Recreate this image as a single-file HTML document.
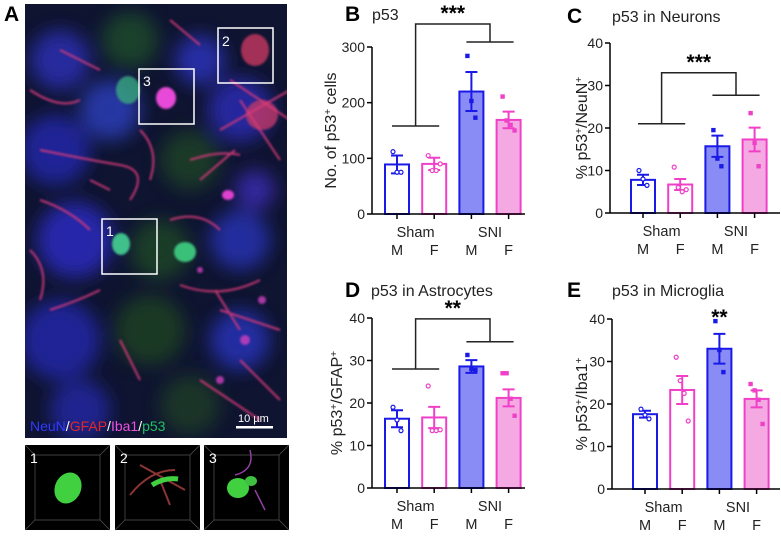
<!DOCTYPE html>
<html><head><meta charset="utf-8">
<style>
html,body{margin:0;padding:0;background:#fff;}
svg text{font-family:"Liberation Sans",Arial,sans-serif;}
</style></head>
<body>
<svg id="fig" width="781" height="540" viewBox="0 0 781 540" xmlns="http://www.w3.org/2000/svg">
<defs>
<filter id="blur3" x="-50%" y="-50%" width="200%" height="200%"><feGaussianBlur stdDeviation="9"/></filter>
<filter id="blur1"><feGaussianBlur stdDeviation="1"/></filter>
<clipPath id="imgclip"><rect x="25" y="4" width="262" height="434"/></clipPath>
</defs>
<g>
<text x="4" y="21" font-size="21" font-weight="bold">A</text>
<g clip-path="url(#imgclip)">
<rect x="25" y="4" width="262" height="434" fill="#0f1430"/>
<g filter="url(#blur3)" opacity="0.85">
<circle cx="60" cy="60" r="30" fill="#2a2fb0"/><circle cx="130" cy="40" r="28" fill="#1c4a2a"/>
<circle cx="55" cy="150" r="35" fill="#2328a8"/><circle cx="110" cy="110" r="30" fill="#2b3db8"/>
<circle cx="190" cy="160" r="30" fill="#1d3f28"/><circle cx="240" cy="110" r="32" fill="#2a2ab0"/>
<circle cx="75" cy="240" r="38" fill="#2a2cc0"/><circle cx="160" cy="250" r="30" fill="#1c4526"/>
<circle cx="240" cy="240" r="30" fill="#2730b0"/><circle cx="60" cy="340" r="40" fill="#2327a8"/>
<circle cx="150" cy="330" r="35" fill="#1b4024"/><circle cx="240" cy="340" r="30" fill="#2830b5"/>
<circle cx="80" cy="410" r="30" fill="#2328a0"/><circle cx="190" cy="405" r="30" fill="#1c3a28"/>
<circle cx="200" cy="60" r="25" fill="#2c30b8"/><circle cx="255" cy="190" r="20" fill="#3a2ab0"/>
</g>
<g filter="url(#blur1)">
<ellipse cx="121" cy="244" rx="9" ry="11" fill="#3fc08a"/><ellipse cx="185" cy="252" rx="11" ry="10" fill="#3ac07a"/>
<ellipse cx="128" cy="90" rx="12" ry="14" fill="#3aa880" opacity="0.8"/><ellipse cx="166" cy="98" rx="10" ry="11" fill="#e84ad8"/>
<ellipse cx="228" cy="195" rx="6" ry="5" fill="#e040d0"/>
<ellipse cx="255" cy="50" rx="14" ry="16" fill="#c83a60" opacity="0.8"/>
<ellipse cx="262" cy="115" rx="16" ry="15" fill="#c03a68" opacity="0.8"/>
</g>
<g stroke="#d83a7a" stroke-width="2" fill="none" opacity="0.9" filter="url(#blur1)">
<path d="M40,150 Q90,160 120,165 T130,200"/><path d="M190,160 Q220,150 240,155 M200,180 L235,150"/>
<path d="M230,80 L290,120 M240,100 L280,160 M220,130 L290,90"/><path d="M170,220 Q200,210 220,230"/>
<path d="M180,285 Q220,300 260,280 M215,290 L240,330"/><path d="M50,310 Q80,300 100,290 M120,340 L140,380"/>
<path d="M200,380 Q230,400 260,420 M240,360 L280,400"/><path d="M60,50 L100,70 M170,20 L200,45"/>
<path d="M30,90 Q60,110 80,100 M40,200 Q70,210 90,230"/><path d="M220,310 L280,330"/>
<path d="M140,130 Q160,150 150,180 M90,180 L110,190 M30,250 Q50,270 40,300"/>
</g>
<g fill="#d040c0" opacity="0.8" filter="url(#blur1)">
<circle cx="245" cy="340" r="5"/><circle cx="262" cy="300" r="4"/><circle cx="220" cy="380" r="4"/><circle cx="200" cy="270" r="3"/>
</g>
<g fill="none" stroke="#fff" stroke-width="1.5">
<rect x="102" y="219" width="55" height="55"/>
<rect x="139" y="69" width="55" height="55"/>
<rect x="218" y="28" width="55" height="55"/>
</g>
<g fill="#fff" font-size="14">
<text x="106" y="236">1</text><text x="143" y="86">3</text><text x="222" y="46">2</text>
</g>
<text x="30" y="431" font-size="14"><tspan fill="#2e3bff">NeuN</tspan><tspan fill="#fff">/</tspan><tspan fill="#e02828">GFAP</tspan><tspan fill="#fff">/</tspan><tspan fill="#f050e0">Iba1</tspan><tspan fill="#fff">/</tspan><tspan fill="#20c060">p53</tspan></text>
<text x="238" y="422" font-size="11" fill="#fff">10 µm</text>
<rect x="236" y="426" width="37" height="2.5" fill="#fff"/>
</g>
<g>
<rect x="25" y="445" width="85" height="85" fill="#000"/>
<path d="M25,445 L35,455 L100,455 L110,445 M35,455 L35,520 L25,530 M35,520 L100,520 L110,530 M100,455 L100,520" stroke="#555" fill="none" stroke-width="0.7"/>
<ellipse cx="68" cy="488" rx="13" ry="16" fill="#40d040" transform="rotate(25 68 488)"/>
<text x="30" y="463" font-size="14" fill="#fff">1</text>
</g>
<g>
<rect x="115" y="445" width="85" height="85" fill="#000"/>
<path d="M115,445 L125,455 L190,455 L200,445 M125,455 L125,520 L115,530 M125,520 L190,520 L200,530 M190,455 L190,520" stroke="#555" fill="none" stroke-width="0.7"/>
<path d="M130,495 Q150,470 175,470 M140,465 L185,490 M160,480 L170,505" stroke="#8a3434" stroke-width="2" fill="none"/>
<path d="M152,485 Q165,477 178,479" stroke="#40d040" stroke-width="5" fill="none"/>
<text x="120" y="463" font-size="14" fill="#fff">2</text>
</g>
<g>
<rect x="204" y="445" width="85" height="85" fill="#000"/>
<path d="M204,445 L214,455 L279,455 L289,445 M214,455 L214,520 L204,530 M214,520 L279,520 L289,530 M279,455 L279,520" stroke="#555" fill="none" stroke-width="0.7"/>
<path d="M250,450 Q255,470 235,475 M255,490 L265,510" stroke="#9040a0" stroke-width="1.5" fill="none"/>
<ellipse cx="238" cy="488" rx="11" ry="10" fill="#40d040"/><ellipse cx="251" cy="481" rx="6" ry="5" fill="#40c040"/>
<text x="209" y="463" font-size="14" fill="#fff">3</text>
</g>
</g>
<g id="charts"></g>
</svg>
<script>
const groups = ["Sham M","Sham F","SNI M","SNI F"];
const bMeans = [89, 90, 220, 169];
const bErr = [16, 11, 35, 15];
const bPts = [[112,75,75],[105,78,78,90],[284,203,173],[211,168,160,150]];
const cMeans = [7.8, 6.7, 15.7, 17.3];
const cErr = [1.2, 1.3, 2.5, 2.8];
const cPts = [[10,8,6.5],[10.8,6,5,5.5],[19.5,12.8,11],[23.5,16.5,11]];
const dMeans = [16.3, 16.6, 28.6, 21.2];
const dErr = [2, 2.5, 1.5, 2];
const dPts = [[19,16,13.5],[24,13.5,13.5,13.7],[31.3,28,27.8],[27,27,21,17]];
const eMeans = [17.6, 23.3, 33, 21.2];
const eErr = [0.8, 3.3, 3.5, 2];
const ePts = [[18.8,17.4,16.5],[31,25.5,22.5,16],[39.5,32.7,27.5],[24.7,23.2,21,15.3]];
const bTicks = [0,100,200,300];
const pctTicks = [0,10,20,30,40];

const NS="http://www.w3.org/2000/svg";
const root=document.getElementById('charts');
function mk(tag,attrs,parent){const e=document.createElementNS(NS,tag);for(const k in attrs)e.setAttribute(k,attrs[k]);(parent||root).appendChild(e);return e;}
const strokeC=["#1a1ae6","#f040c8","#1a1ae6","#f040c8"];
const fillC=["#ffffff","#ffffff","#8a8cf5","#f5a9e2"];

function chart(o){
  const g=mk('g',{});
  
  
  const y=v=>o.y0-(v/o.max)*(o.y0-o.yTop);
  const cx=i=>o.ax+o.first+i*37.2;
  o.means.forEach((m,i)=>{
    const r=mk('rect',{x:cx(i)-12,y:y(m),width:24,height:o.y0-y(m),fill:fillC[i],stroke:strokeC[i],'stroke-width':2},g);
    
    
    const eb=mk('path',{d:`M${cx(i)},${y(m+o.err[i])}V${y(m-o.err[i])}M${cx(i)-6},${y(m+o.err[i])}h12M${cx(i)-6},${y(m-o.err[i])}h12`,stroke:strokeC[i],'stroke-width':2,fill:'none'},g);
    
    
    o.pts[i].forEach((p,j)=>{
      const off=(j-(o.pts[i].length-1)/2)*4;
      let pt;
      if(i<2){pt=mk('circle',{cx:cx(i)+off,cy:y(p),r:2,fill:'#fff',stroke:strokeC[i],'stroke-width':1.2},g);}
      else{pt=mk('rect',{x:cx(i)+off-2.2,y:y(p)-2.2,width:4.4,height:4.4,fill:strokeC[i]},g);}
      
      
    });
    mk('line',{x1:cx(i),x2:cx(i),y1:o.y0,y2:o.y0+5,stroke:'#000','stroke-width':1.5},g);
  });
  const ya=mk('line',{x1:o.ax,x2:o.ax,y1:o.yTop,y2:o.y0,stroke:'#000','stroke-width':1.5},g);
  
  
  const xa=mk('line',{x1:o.ax,x2:o.ax+o.xlen,y1:o.y0,y2:o.y0,stroke:'#000','stroke-width':1.5},g);
  
  
  o.ticks.forEach(t=>{
    mk('line',{x1:o.ax-5,x2:o.ax,y1:y(t),y2:y(t),stroke:'#000','stroke-width':1.5},g);
    const tl=mk('text',{x:o.ax-7,y:y(t)+5,'font-size':14,'text-anchor':'end',fill:'#222'},g);
    tl.textContent=t;
    
    
  });
  [["Sham",(cx(0)+cx(1))/2],["SNI",(cx(2)+cx(3))/2]].forEach(([s,x])=>{
    const t=mk('text',{x:x,y:o.y0+23,'font-size':14.5,'text-anchor':'middle',fill:'#222'},g);t.textContent=s;
    
    
  });
  ["M","F","M","F"].forEach((s,i)=>{
    const t=mk('text',{x:cx(i),y:o.y0+41,'font-size':14.5,'text-anchor':'middle',fill:'#222'},g);t.textContent=s;
    
    
  });
  const yt=mk('text',{x:0,y:0,'font-size':16,'text-anchor':'middle',fill:'#222',transform:`translate(${o.ytx},${(o.y0+o.yTop)/2}) rotate(-90)`},g);
  yt.innerHTML=o.ytitle;
  
  
  const pl=mk('text',{x:o.lx,y:o.ly,'font-size':21,'font-weight':'bold'},g);pl.textContent=o.letter;
  
  
  const ti=mk('text',{x:o.tx,y:o.ly-1,'font-size':16,fill:'#222'},g);ti.textContent=o.title;
  
  
  if(o.br){
    const b=o.br;
    const l=mk('path',{d:`M${cx(0)-5},${y(b.sham)}H${cx(1)+5}M${(cx(0)+cx(1))/2},${y(b.sham)}V${y(b.top)}H${(cx(2)+cx(3))/2}V${y(b.sni)}M${cx(2)-5},${y(b.sni)}H${cx(3)+5}`,stroke:'#222','stroke-width':1.5,fill:'none'},g);
    
    
    const s=mk('text',{x:((cx(0)+cx(1))/2+(cx(2)+cx(3))/2)/2,y:y(b.top)-4,'font-size':21,'font-weight':'bold','text-anchor':'middle'},g);s.textContent=b.stars;
    
    
  }
  if(o.star){
    const s=mk('text',{x:cx(2),y:o.star,'font-size':21,'font-weight':'bold','text-anchor':'middle'},g);s.textContent='**';
    
    
  }
}
chart({name:'chart-b',ax:372,y0:214,yTop:47,max:300,first:25,xlen:153,means:bMeans,err:bErr,pts:bPts,ticks:bTicks,ytx:336,ytitle:'No. of p53<tspan dy="-5" font-size="10">+</tspan><tspan dy="5"> cells</tspan>',letter:'B',lx:345,ly:21,tx:372,title:'p53',br:{sham:158,top:300*(214-24)/167,sni:300*(214-42)/167,stars:'***'}});
chart({name:'chart-c',ax:610,y0:213,yTop:43,max:40,first:33,xlen:170,means:cMeans,err:cErr,pts:cPts,ticks:pctTicks,ytx:587,ytitle:'% p53<tspan dy="-5" font-size="10">+</tspan><tspan dy="5">/NeuN</tspan><tspan dy="-5" font-size="10">+</tspan>',letter:'C',lx:567,ly:23,tx:612,title:'p53 in Neurons',br:{sham:21,top:33,sni:27.7,stars:'***'}});
chart({name:'chart-d',ax:372,y0:488,yTop:318,max:40,first:25,xlen:153,means:dMeans,err:dErr,pts:dPts,ticks:pctTicks,ytx:342,ytitle:'% p53<tspan dy="-5" font-size="10">+</tspan><tspan dy="5">/GFAP</tspan><tspan dy="-5" font-size="10">+</tspan>',letter:'D',lx:345,ly:297,tx:371,title:'p53 in Astrocytes',br:{sham:28,top:39.8,sni:34.4,stars:'**'}});
chart({name:'chart-e',ax:612,y0:489,yTop:319,max:40,first:33,xlen:168,means:eMeans,err:eErr,pts:ePts,ticks:pctTicks,ytx:587,ytitle:'% p53<tspan dy="-5" font-size="10">+</tspan><tspan dy="5">/Iba1</tspan><tspan dy="-5" font-size="10">+</tspan>',letter:'E',lx:567,ly:297,tx:612,title:'p53 in Microglia',star:324});
</script>
</body></html>
